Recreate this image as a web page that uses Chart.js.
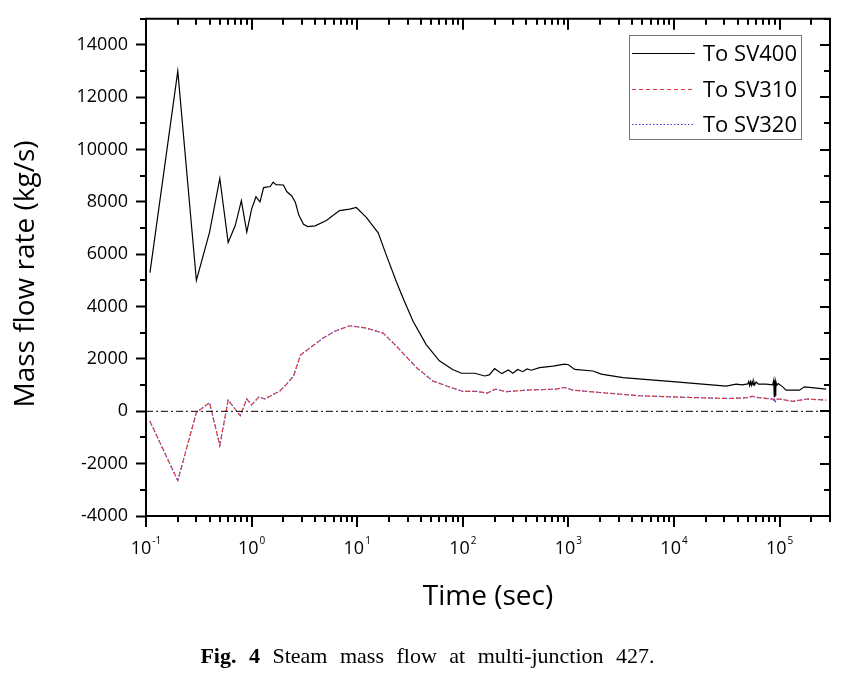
<!DOCTYPE html>
<html>
<head>
<meta charset="utf-8">
<script src="https://cdn.jsdelivr.net/npm/chart.js@4.4.1/dist/chart.umd.min.js"></script>
<style>
    body { margin: 0; background: #fff; }
    #wrap { position: relative; width: 851px; height: 673px; }
    #caption {
        position: absolute; left: 0; width: 851px; top: 643px;
        text-align: center; font-family: "Liberation Serif", serif; font-size: 22px;
        word-spacing: 7px; color: #000; padding-left: 2px;
    }
</style>
</head>
<body>
<div id="wrap">
    <canvas id="flowChart" width="851" height="673"></canvas>
    <div id="caption"><b>Fig. 4</b> Steam mass flow at multi-junction 427.</div>
</div>
<script>
// time (sec) and mass flow (kg/s)
const timeSV400 = [0.109, 0.2, 0.3, 0.4, 0.5, 0.6, 0.7, 0.8, 0.9, 1.0, 1.1, 1.2, 1.3, 1.5, 1.6, 1.7, 2.0, 2.15, 2.4, 2.6, 2.8, 3.1, 3.4, 4.0, 5.1, 6.8, 8.5, 9.8, 12.2, 15.8, 18.9, 23.5, 27.2, 33.8, 45, 60, 80, 97, 130, 161, 178, 200, 234, 270, 298, 331, 370, 405, 445, 533, 713, 920, 1000, 1145, 1706, 2048, 3281, 9750, 31200, 38800, 44000, 50000, 51000, 52000, 53000, 54000, 55000, 56000, 57000, 58000, 60000, 63000, 74500, 86000, 88000, 89000, 90000, 91000, 92000, 94000, 97000, 107000, 115000, 154000, 172000, 276000];
const flowSV400 = [5300, 13000, 5000, 6850, 8900, 6450, 7100, 8050, 6850, 7730, 8200, 8000, 8550, 8590, 8760, 8660, 8650, 8400, 8230, 7980, 7500, 7150, 7060, 7090, 7290, 7670, 7730, 7790, 7410, 6820, 5960, 4950, 4320, 3440, 2550, 1930, 1600, 1455, 1455, 1350, 1390, 1630, 1440, 1580, 1455, 1600, 1515, 1620, 1570, 1670, 1730, 1805, 1780, 1600, 1540, 1420, 1290, 1135, 960, 1040, 1010, 1050, 1140, 990, 1130, 1000, 1140, 1010, 1130, 1010, 1120, 1040, 1040, 1010, 1190, 560, 1180, 620, 1150, 1000, 1060, 935, 810, 810, 935, 850];

const timeSV310 = [0.109, 0.2, 0.3, 0.4, 0.5, 0.6, 0.78, 0.9, 1.0, 1.18, 1.33, 1.85, 2.15, 2.5, 2.9, 3.56, 4.75, 6.3, 8.5, 12.2, 17.6, 23.5, 36.5, 52, 80, 100, 134, 171, 205, 256, 397, 767, 920, 1100, 1980, 4700, 14000, 33000, 50000, 55000, 60000, 63000, 86000, 100000, 133000, 181000, 276000];
const flowSV310 = [-380, -2650, -40, 330, -1300, 430, -170, 470, 250, 560, 470, 780, 1040, 1350, 2150, 2420, 2800, 3080, 3270, 3180, 2990, 2490, 1670, 1160, 890, 760, 760, 700, 850, 750, 810, 850, 910, 810, 720, 595, 530, 490, 520, 580, 540, 520, 470, 470, 380, 470, 430];

const timeSV320 = [0.109, 0.2, 0.3, 0.4, 0.5, 0.6, 0.78, 0.9, 1.0, 1.18, 1.33, 1.85, 2.15, 2.5, 2.9, 3.56, 4.75, 6.3, 8.5, 12.2, 17.6, 23.5, 36.5, 52, 80, 100, 134, 171, 205, 256, 397, 767, 920, 1100, 1980, 4700, 14000, 33000, 50000, 55000, 60000, 63000, 86000, 88000, 89000, 90000, 91000, 92000, 95000, 100000, 133000, 181000, 276000];
const flowSV320 = [-380, -2650, -40, 330, -1300, 430, -170, 470, 250, 560, 470, 780, 1040, 1350, 2150, 2420, 2800, 3080, 3270, 3180, 2990, 2490, 1670, 1160, 890, 760, 760, 700, 850, 750, 810, 850, 910, 810, 720, 595, 530, 490, 520, 570, 540, 520, 470, 470, 350, 420, 340, 450, 470, 470, 380, 470, 430];

const zeroTime = [0.1, 300000];
const zeroFlow = [0, 0];

const xDecades = [-1, 0, 1, 2, 3, 4, 5];
const yTicks = [-4000, -2000, 0, 2000, 4000, 6000, 8000, 10000, 12000, 14000];

function toPoints(xs, ys) {
    return xs.map(function (t, i) { return { x: t, y: ys[i] }; });
}

// frame, minor ticks, mirrored ticks, x labels with exponents and titles
const framePlugin = {
    id: 'framePlugin',
    afterDraw(chart) {
        const ctx = chart.ctx;
        const a = chart.chartArea;
        const xs = chart.scales.x;
        const ys = chart.scales.y;
        ctx.save();
        ctx.strokeStyle = '#000';
        ctx.lineWidth = 2;
        ctx.beginPath();
        ctx.moveTo(a.left - 1, a.top);
        ctx.lineTo(a.right, a.top);
        ctx.lineTo(a.right, a.bottom);
        ctx.lineTo(a.left - 1, a.bottom);
        ctx.stroke();

        // log ticks on bottom (outward) and top (inward)
        ctx.beginPath();
        xDecades.forEach(function (e) {
            for (let m = 1; m <= 9; m++) {
                const v = m * Math.pow(10, e);
                if (v > xs.max) break;
                const px = Math.round(xs.getPixelForValue(v));
                const len = m === 1 ? 11 : 6;
                ctx.moveTo(px, a.bottom);
                ctx.lineTo(px, a.bottom + len);
                ctx.moveTo(px, a.top);
                ctx.lineTo(px, a.top + len);
            }
        });
        // y minor ticks left, all ticks right (inward)
        for (let v = -4000; v <= 15000; v += 1000) {
            const py = Math.round(ys.getPixelForValue(v));
            const major = v % 2000 === 0;
            if (!major) {
                ctx.moveTo(a.left, py);
                ctx.lineTo(a.left - 6, py);
            }
            ctx.moveTo(a.right, py);
            ctx.lineTo(a.right - (major ? 10 : 6), py);
        }
        ctx.stroke();

        // x tick labels 10^n
        ctx.fillStyle = '#000';
        ctx.textBaseline = 'alphabetic';
        xDecades.forEach(function (e) {
            const px = xs.getPixelForValue(Math.pow(10, e));
            ctx.font = '18px "Open Sans"';
            const base = ctx.measureText('10').width;
            ctx.font = '10px "Open Sans"';
            const expText = String(e);
            const ew = ctx.measureText(expText).width;
            const start = px - (base + ew + 1) / 2;
            ctx.font = '18px "Open Sans"';
            ctx.textAlign = 'left';
            ctx.fillText('10', start, 554);
            ctx.font = '10px "Open Sans"';
            ctx.fillText(expText, start + base + 1, 544);
        });

        // axis titles
        ctx.font = '28px "Open Sans"';
        ctx.textAlign = 'center';
        ctx.fillText('Time (sec)', (a.left + a.right) / 2, 605);
        ctx.save();
        ctx.translate(34, 274);
        ctx.rotate(-Math.PI / 2);
        ctx.fillText('Mass flow rate (kg/s)', 0, 0);
        ctx.restore();
        ctx.restore();
    }
};

// boxed legend inside the plot, top right
const boxLegend = {
    id: 'boxLegend',
    afterDraw(chart) {
        const ctx = chart.ctx;
        const box = { left: 629, top: 35, right: 801, bottom: 139 };
        ctx.save();
        ctx.fillStyle = '#fff';
        ctx.fillRect(box.left, box.top, box.right - box.left, box.bottom - box.top);
        ctx.strokeStyle = '#777';
        ctx.lineWidth = 1;
        ctx.strokeRect(box.left + 0.5, box.top + 0.5, box.right - box.left, box.bottom - box.top);
        const rows = [53, 89, 124];
        let i = 0;
        chart.data.datasets.forEach(function (ds) {
            if (ds.noLegend) return;
            const yy = rows[i++] + 0.5;
            ctx.strokeStyle = ds.borderColor;
            ctx.lineWidth = ds.borderWidth;
            ctx.setLineDash(ds.borderDash || []);
            ctx.beginPath();
            ctx.moveTo(632, yy);
            ctx.lineTo(695, yy);
            ctx.stroke();
            ctx.setLineDash([]);
            ctx.fillStyle = '#000';
            ctx.font = '22px "Open Sans"';
            ctx.textAlign = 'left';
            ctx.textBaseline = 'middle';
            ctx.fillText(ds.label, 703, yy + 1);
        });
        ctx.restore();
    }
};

const ctx = document.getElementById('flowChart').getContext('2d');
const flowChart = new Chart(ctx, {
    type: 'line',
    data: {
        datasets: [{
            label: 'zero',
            noLegend: true,
            data: toPoints(zeroTime, zeroFlow),
            borderColor: '#000',
            borderWidth: 1,
            borderDash: [7, 3, 2, 3]
        }, {
            label: 'To SV400',
            data: toPoints(timeSV400, flowSV400),
            borderColor: '#000',
            borderWidth: 1.2
        }, {
            label: 'To SV310',
            data: toPoints(timeSV310, flowSV310),
            borderColor: '#e03a3a',
            borderWidth: 1.2,
            borderDash: [4, 3]
        }, {
            label: 'To SV320',
            data: toPoints(timeSV320, flowSV320),
            borderColor: '#3a3ad8',
            borderWidth: 1.2,
            borderDash: [1.5, 2]
        }]
    },
    options: {
        responsive: false,
        animation: false,
        elements: { point: { radius: 0 }, line: { tension: 0 } },
        layout: { padding: { left: 0, top: 14, right: 21, bottom: 157 } },
        plugins: { legend: { display: false }, tooltip: { enabled: false } },
        scales: {
            x: {
                type: 'logarithmic',
                display: false,
                min: 0.1,
                max: 300000
            },
            y: {
                type: 'linear',
                min: -4000,
                max: 15000,
                afterFit: function (scale) { scale.width = 146; },
                afterBuildTicks: function (scale) {
                    scale.ticks = yTicks.map(function (v) { return { value: v }; });
                },
                border: { display: true, color: '#000', width: 2 },
                grid: {
                    drawOnChartArea: false,
                    drawTicks: true,
                    tickLength: 10,
                    tickWidth: 2,
                    tickColor: '#000'
                },
                ticks: {
                    padding: 8,
                    color: '#000',
                    font: { family: 'Open Sans', size: 18 },
                    callback: function (v) { return String(v); }
                }
            }
        }
    },
    plugins: [framePlugin, boxLegend]
});
</script>
</body>
</html>
